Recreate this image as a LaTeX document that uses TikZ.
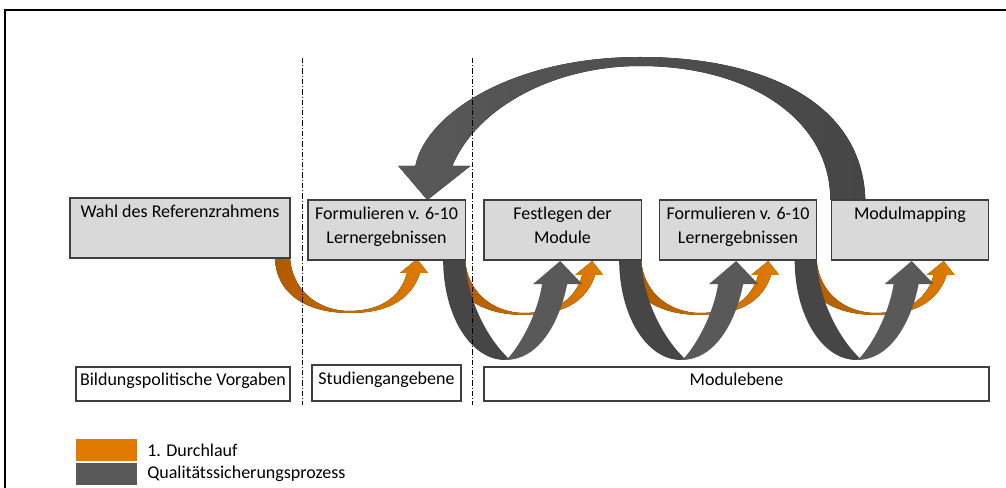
\documentclass[tikz,border=0pt]{standalone}
\usepackage{fontspec}
\setmainfont{Carlito}
\usetikzlibrary{positioning,backgrounds}

\definecolor{firstorange}{HTML}{E07B00}
\definecolor{firstorangedark}{HTML}{B05A00}
\definecolor{qsgray}{HTML}{595959}
\definecolor{qsgraydark}{HTML}{464646}
\definecolor{stagefill}{HTML}{D9D9D9}
\definecolor{frameline}{HTML}{3F3F3F}

% orange arrow under a box, tail at the box's lower right corner
\newcommand{\firstrun}[1]{%
  \begin{scope}[shift={(#1.south east)}]
    \fill[left color=firstorangedark, right color=firstorange]
      (-15,0) .. controls (-14,35) and (15,55) .. (60,55)
      .. controls (100,55) and (122,40) .. (130,15)
      -- (138,15) -- (127,1) -- (110,15) -- (117,15)
      .. controls (110,40) and (90,53) .. (58,53)
      .. controls (25,52) and (2,30) .. (0,0) -- cycle;
  \end{scope}}

% gray loop arrow, down and back up into the next box
\newcommand{\qsloop}[1]{%
  \begin{scope}[shift={(#1.south east)}]
    \fill[qsgraydark] (-22,0) .. controls (-22,55) and (5,100) .. (40,100)
      -- (43,98) .. controls (22,78) and (2,40) .. (0,0) -- cycle;
    \fill[qsgray] (40,100) .. controls (75,100) and (95,60) .. (102,24)
      -- (117,24) -- (95,1) -- (68,24) -- (77,24)
      .. controls (72,55) and (55,85) .. (43,98) -- cycle;
  \end{scope}}

\tikzset{
  stagebox/.style={draw=frameline, fill=stagefill, line width=1pt,
    minimum width=118pt, minimum height=45pt, inner sep=0pt, outer sep=0pt},
  levelbox/.style={draw=frameline, fill=white, line width=1pt,
    minimum height=25.5pt, inner sep=0pt, outer sep=0pt,
    text height=9pt, text depth=7.5pt, font=\fontsize{13.5}{16}\selectfont},
  boxtext/.style={anchor=north, align=center, inner sep=5pt,
    font=\fontsize{13.5}{18}\selectfont},
  levelcut/.style={line width=0.6pt, dash pattern=on 4pt off 1.5pt on 0.8pt off 1.5pt},
  swatch/.style={minimum width=45.75pt, minimum height=17pt, inner sep=0pt, outer sep=0pt},
  legendtext/.style={inner sep=0pt, font=\fontsize{13.5}{16}\selectfont}
}

\begin{document}
\begin{tikzpicture}[x=0.75pt,y=-0.75pt]
\useasboundingbox (0,0) rectangle (1006,488);
\clip (0,0) rectangle (1006,488);

% frame
\draw[line width=1.5pt] (5,495) -- (5,10) -- (1015,10);

% steps
\node[stagebox, minimum width=165pt, label={[boxtext]north:Wahl des Referenzrahmens}] (wahl) at (180,228) {};
\node[stagebox, label={[boxtext]north:Formulieren v. 6-10\\Lernergebnissen}] (lo1) at (386.5,230) {};
\node[stagebox, label={[boxtext]north:Festlegen der\\Module}] (fest) at (562.5,230) {};
\node[stagebox, label={[boxtext]north:Formulieren v. 6-10\\Lernergebnissen}] (lo2) at (738,230) {};
\node[stagebox, label={[boxtext]north:Modulmapping}] (mapping) at (910,230) {};

% levels
\node[levelbox, minimum width=160.5pt] (bildung) at (183,384) {Bildungspolitische Vorgaben};
\node[levelbox, minimum width=111.75pt, minimum height=27pt] (studien) at (386.5,383) {Studiengangebene};
\node[levelbox, minimum width=378.75pt] (modul) at (736.5,384) {Modulebene};

\begin{scope}[on background layer]
  \firstrun{wahl}
  \firstrun{lo1}
  \firstrun{fest}
  \firstrun{lo2}
  \qsloop{lo1}
  \qsloop{fest}
  \qsloop{lo2}
  % back from Modulmapping to the first Formulieren box
  \begin{scope}[shift={(mapping.north west)}]
    \fill[left color=qsgray, right color=qsgraydark]
      (34,0) .. controls (31,-100) and (-71,-143) .. (-191,-143)
      .. controls (-321,-143) and (-406,-85) .. (-416,-34)
      -- (-433,-34) -- (-404,0) -- (-361,-34) -- (-379,-34)
      .. controls (-356,-90) and (-281,-134) .. (-191,-134)
      .. controls (-81,-134) and (-1,-80) .. (-1,0) -- cycle;
  \end{scope}
\end{scope}

% level borders
\coordinate (cut1top) at (302,58);
\coordinate (cut1bot) at (302,405);
\coordinate (cut2top) at (472,58);
\coordinate (cut2bot) at (472,405);
\draw[levelcut] (cut1top) -- (cut1bot);
\draw[levelcut] (cut2top) -- (cut2bot);

% legend
\node[swatch, fill=firstorange] (keyfirst) at (106.5,450) {};
\node[swatch, fill=qsgray] (keyqs) at (106.5,474) {};
\node[legendtext, right=7.5pt of keyfirst] (keyfirsttext) {1. Durchlauf};
\node[legendtext, right=7.5pt of keyqs] (keyqstext) {Qualitätssicherungsprozess};

\end{tikzpicture}
\end{document}
